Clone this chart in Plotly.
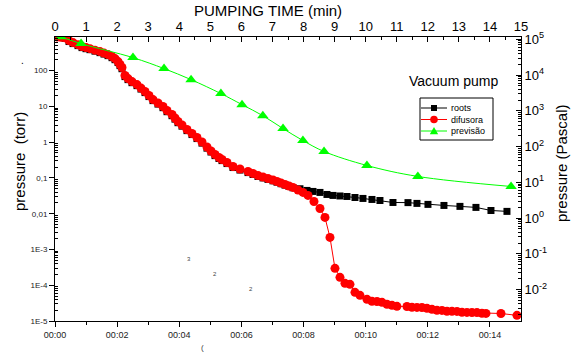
import plotly.graph_objects as go

# ---------------- data (time in minutes, pressure in torr) ----------------
roots_t = [0.064, 0.193, 0.322, 0.451, 0.579, 0.740, 0.869, 0.998, 1.126, 1.287,
           1.448, 1.577, 1.706, 1.835, 1.931, 2.028, 2.092, 2.156, 2.253, 2.350,
           2.478, 2.639, 2.768, 2.897, 3.025, 3.154, 3.315, 3.476, 3.605, 3.766,
           3.862, 3.959, 4.088, 4.248, 4.409, 4.570, 4.731, 4.892, 5.021, 5.150,
           5.278, 5.375, 5.536, 5.729, 5.954, 6.212, 6.373, 6.534, 6.695, 6.855,
           7.016, 7.145, 7.274, 7.403, 7.531, 7.660,
           7.885, 8.111, 8.304, 8.529, 8.754, 8.948, 9.173, 9.398, 9.656, 9.913,
           10.203, 10.460, 10.879, 11.362, 11.651, 12.005, 12.520, 13.035, 13.550,
           14.033, 14.548]
roots_p = [870, 860, 800, 650, 570, 500, 440, 410, 385, 350,
           318, 290, 262, 230, 202, 168, 138, 113, 68, 56,
           46, 38, 30.5, 24.3, 18.8, 14.5, 11.6, 9.2, 7.1, 5.5,
           4.4, 3.5, 2.8, 2.1, 1.63, 1.26, 0.94, 0.68, 0.53, 0.42,
           0.35, 0.305, 0.252, 0.195, 0.166, 0.141, 0.125, 0.110, 0.100, 0.091,
           0.083, 0.076, 0.069, 0.063, 0.058, 0.053,
           0.0498, 0.0447, 0.0419, 0.0393, 0.0345, 0.0324, 0.0313, 0.0303, 0.0284, 0.0267,
           0.0250, 0.0234, 0.0206, 0.0204, 0.0194, 0.0182, 0.0170, 0.0160, 0.0150,
           0.0123, 0.0116]

difusora_t = [0.064, 0.193, 0.322, 0.451, 0.579, 0.740, 0.869, 0.998, 1.126, 1.287,
              1.448, 1.577, 1.706, 1.835, 1.931, 2.028, 2.092, 2.156, 2.253, 2.350,
              2.478, 2.639, 2.768, 2.897, 3.025, 3.154, 3.315, 3.476, 3.605, 3.766,
              3.862, 3.959, 4.088, 4.248, 4.409, 4.570, 4.731, 4.892, 5.021, 5.150,
              5.278, 5.375, 5.536, 5.729, 5.954, 6.212, 6.373, 6.534, 6.695, 6.855,
              7.016, 7.145, 7.274, 7.403, 7.531, 7.660,
              7.821, 7.982, 8.143, 8.336, 8.529, 8.690, 8.851, 9.012, 9.173, 9.334,
              9.495, 9.656, 9.817, 10.042, 10.203, 10.364, 10.525, 10.686, 10.847, 11.007,
              11.329, 11.490, 11.651, 11.812, 11.973, 12.134, 12.295, 12.456, 12.617, 12.778,
              12.939, 13.100, 13.260, 13.421, 13.582, 13.743, 13.872, 14.355, 14.870]
difusora_p = [870, 860, 830, 690, 607, 533, 469, 440, 412, 374,
              340, 309, 281, 247, 217, 179, 148, 122, 72.8, 60.0,
              49.4, 40.7, 32.5, 26.0, 20.1, 15.5, 12.4, 9.9, 7.65, 5.92,
              4.72, 3.77, 3.01, 2.26, 1.75, 1.35, 1.01, 0.731, 0.566, 0.452,
              0.372, 0.327, 0.270, 0.209, 0.178, 0.151, 0.133, 0.117, 0.106, 0.0966,
              0.0877, 0.0796, 0.0723, 0.0656, 0.0596, 0.0542,
              0.0461, 0.0393, 0.0324, 0.0220, 0.0140, 0.00787, 0.00217, 2.96e-4, 1.66e-4, 1.13e-4,
              1.06e-4, 6.33e-5, 5.22e-5, 4.04e-5, 3.55e-5, 3.50e-5, 3.33e-5, 2.93e-5, 2.74e-5, 2.57e-5,
              2.55e-5, 2.41e-5, 2.40e-5, 2.38e-5, 2.26e-5, 2.12e-5, 1.99e-5, 1.98e-5, 1.87e-5, 1.86e-5,
              1.85e-5, 1.75e-5, 1.74e-5, 1.73e-5, 1.72e-5, 1.64e-5, 1.63e-5, 1.62e-5, 1.44e-5]

previsao_t = [0.19, 0.84, 2.51, 3.51, 4.38, 5.34, 6.02, 6.69, 7.34, 7.98, 8.66, 10.04, 11.68, 14.68]
previsao_p = [880, 569, 231, 114, 56, 22.8, 11.2, 5.5, 2.4, 1.11, 0.548, 0.223, 0.11, 0.0577]

series_names = ["roots", "difusora", "previsão"]
series_colors = ["#000000", "#ff0000", "#00ff00"]

bottom_tickvals = [0, 2, 4, 6, 8, 10, 12, 14]
bottom_ticktext = ["00:00", "00:02", "00:04", "00:06", "00:08", "00:10", "00:12", "00:14"]
left_tickvals = [1e-5, 1e-4, 1e-3, 1e-2, 1e-1, 1, 10, 100]
left_ticktext = ["1E-5", "1E-4", "1E-3", "0,01", "0,1", "1", "10", "100"]
right_exponents = [-2, -1, 0, 1, 2, 3, 4, 5]

TORR_TO_PA_LOG = 2.1249  # log10(133.322)

# ---------------- geometry helpers ----------------
W, H = 571, 354
ML, MR, MT, MB = 55, 50, 37, 33
PW, PH = W - ML - MR, H - MT - MB


def px(xp):
    return (xp - ML) / PW


def py(yp):
    return (H - MB - yp) / PH


FONT = "Liberation Sans, Arial, sans-serif"

fig = go.Figure()
fig.add_trace(go.Scatter(
    x=roots_t, y=roots_p, name=series_names[0], mode="lines+markers",
    line=dict(color=series_colors[0], width=1),
    marker=dict(symbol="square", size=7, color=series_colors[0]),
))
fig.add_trace(go.Scatter(
    x=difusora_t, y=difusora_p, name=series_names[1], mode="lines+markers",
    line=dict(color=series_colors[1], width=1),
    marker=dict(symbol="circle", size=9, color=series_colors[1]),
))
fig.add_trace(go.Scatter(
    x=previsao_t, y=previsao_p, name=series_names[2], mode="lines+markers",
    line=dict(color=series_colors[2], width=1, shape="spline", smoothing=1),
    marker=dict(symbol="triangle-up", size=10, color=series_colors[2]),
))
# dummy trace that activates the top / right (Pascal) axes
fig.add_trace(go.Scatter(x=[None], y=[None], xaxis="x2", yaxis="y2",
                         showlegend=False, hoverinfo="skip"))

left_minor = [k * 10 ** d for d in range(-5, 3) for k in range(2, 10)]
right_minor = [k * 10 ** d for d in range(-3, 5) for k in range(2, 10)]

axis_common = dict(showgrid=False, zeroline=False, showline=True,
                   linecolor="black", linewidth=1, tickcolor="black",
                   tickwidth=1)

fig.update_layout(
    width=W, height=H,
    margin=dict(l=ML, r=MR, t=MT, b=MB, pad=0),
    paper_bgcolor="white", plot_bgcolor="white",
    font=dict(family=FONT, color="black"),
    showlegend=False,
    xaxis=dict(range=[0, 15], tickmode="array", tickvals=bottom_tickvals,
               ticktext=bottom_ticktext, ticks="outside", ticklen=5,
               tickfont=dict(size=9, color="#222"),
               minor=dict(tickmode="array", tickvals=[1, 3, 5, 7, 9, 11, 13],
                          ticks="outside", ticklen=3, tickcolor="black"),
               **axis_common),
    xaxis2=dict(range=[0, 15], overlaying="x", side="top", anchor="y",
                tickmode="linear", tick0=0, dtick=1, ticks="inside", ticklen=5,
                tickfont=dict(size=13),
                minor=dict(dtick=0.5, tick0=0, ticks="inside", ticklen=3,
                           tickcolor="black"),
                **axis_common),
    yaxis=dict(type="log", range=[-5, 2.94], tickmode="array",
               tickvals=left_tickvals, ticktext=left_ticktext,
               ticks="outside", ticklen=5,
               tickfont=dict(size=8, color="#222"),
               minor=dict(tickmode="array", tickvals=left_minor,
                          ticks="inside", ticklen=3, tickcolor="black"),
               **axis_common),
    yaxis2=dict(type="log", overlaying="y", side="right", anchor="x",
                range=[-5 + TORR_TO_PA_LOG, 2.94 + TORR_TO_PA_LOG], tickmode="array",
                tickvals=[10 ** e for e in right_exponents],
                ticktext=["10<sup>%d</sup>" % e for e in right_exponents],
                ticks="inside", ticklen=5, tickfont=dict(size=13),
                minor=dict(tickmode="array", tickvals=right_minor,
                           ticks="inside", ticklen=3, tickcolor="black"),
                **axis_common),
)

ann = [
    dict(text="PUMPING TIME (min)", x=268, y=11, size=15, color="black", angle=0),
    dict(text="pressure\u00a0 (torr)", x=19, y=162, size=15, color="black", angle=-90),
    dict(text="pressure (Pascal)", x=561, y=163, size=15, color="black", angle=-90),
    dict(text="Vacuum pump", x=453, y=81, size=14, color="black", angle=0),
    dict(text=".", x=22, y=60, size=10, color="black", angle=0),
    dict(text="3", x=189, y=259, size=6, color="#444", angle=0),
    dict(text="2", x=215, y=274, size=6, color="#444", angle=0),
    dict(text="2", x=251, y=289, size=6, color="#444", angle=0),
    dict(text="(", x=202, y=347, size=8, color="#444", angle=0),
]
for a in ann:
    fig.add_annotation(text=a["text"], x=px(a["x"]), y=py(a["y"]), xref="paper", yref="paper",
                       showarrow=False, textangle=a["angle"], xanchor="center",
                       yanchor="middle",
                       font=dict(size=a["size"], family=FONT, color=a["color"]))

# ---------------- compact legend box (as in the reference) ----------------
LX0, LX1, LY0, LY1 = 420, 493, 98, 140
rows = [108, 119.5, 131]
shapes = [dict(type="rect", xref="paper", yref="paper", x0=px(LX0), x1=px(LX1),
               y0=py(LY0), y1=py(LY1), line=dict(color="black", width=1),
               fillcolor="white", layer="above")]
for name, col, yr, sym in zip(series_names, series_colors, rows, ["square", "circle", "triangle"]):
    shapes.append(dict(type="line", xref="paper", yref="paper", x0=px(421), x1=px(447),
                       y0=py(yr), y1=py(yr), line=dict(color=col, width=1), layer="above"))
    cx = 434
    if sym == "square":
        shapes.append(dict(type="rect", xref="paper", yref="paper", x0=px(cx - 3), x1=px(cx + 3),
                           y0=py(yr - 3), y1=py(yr + 3), line=dict(width=0), fillcolor=col,
                           layer="above"))
    elif sym == "circle":
        shapes.append(dict(type="circle", xref="paper", yref="paper", x0=px(cx - 3.8), x1=px(cx + 3.8),
                           y0=py(yr - 3.8), y1=py(yr + 3.8), line=dict(width=0), fillcolor=col,
                           layer="above"))
    else:
        path = "M %f,%f L %f,%f L %f,%f Z" % (px(cx - 4.2), py(yr + 3.2), px(cx + 4.2), py(yr + 3.2),
                                               px(cx), py(yr - 4))
        shapes.append(dict(type="path", xref="paper", yref="paper", path=path,
                           line=dict(width=0), fillcolor=col, layer="above"))
    fig.add_annotation(text=name, x=px(449), y=py(yr), xref="paper", yref="paper",
                       showarrow=False, xanchor="left", yanchor="middle",
                       font=dict(size=9, family=FONT, color="black"))
fig.update_layout(shapes=shapes)

fig.write_html("out.html", config={"displayModeBar": False},
               post_script="document.body.style.margin='0px';")
